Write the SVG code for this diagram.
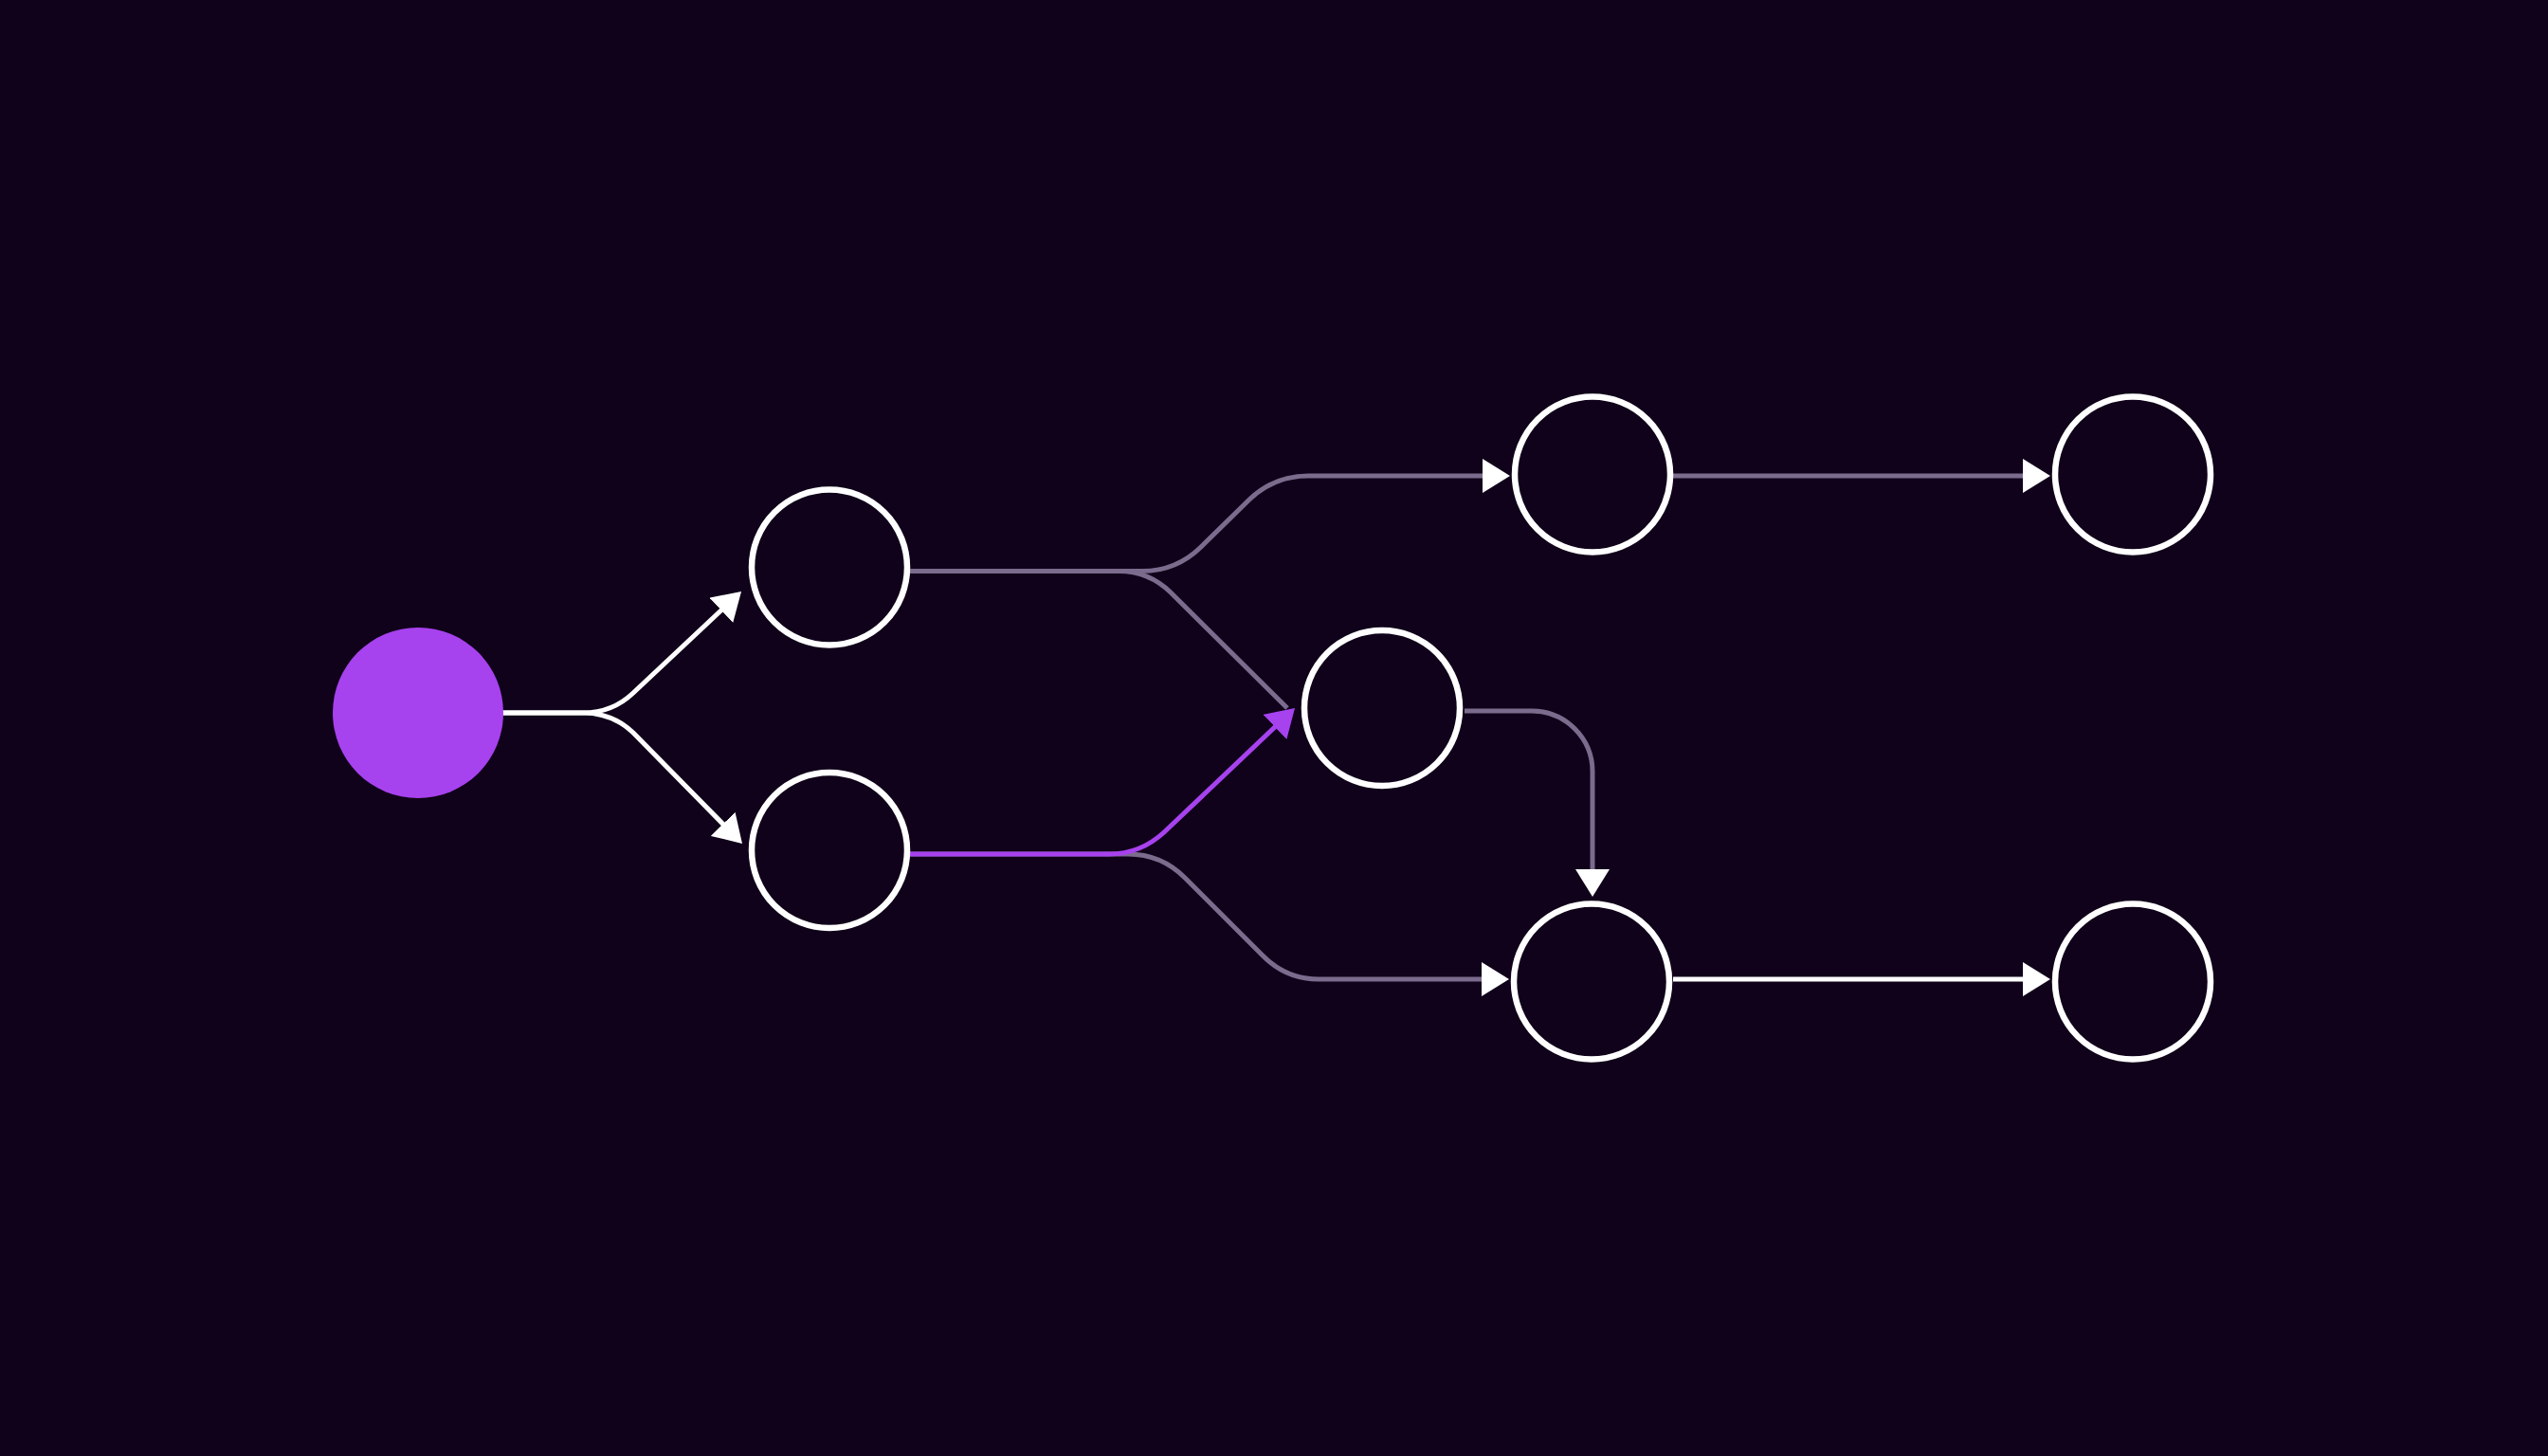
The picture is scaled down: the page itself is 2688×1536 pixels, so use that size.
<svg xmlns="http://www.w3.org/2000/svg" width="2688" height="1536" viewBox="0 0 2688 1536">
  <defs>
    <style>
      .node { fill: none; stroke: #ffffff; stroke-width: 6.5; }
      .start { fill: #a742ef; stroke: none; }
      .edge { fill: none; stroke-width: 5; stroke-linecap: butt; stroke-linejoin: round; }
      .white { stroke: #ffffff; }
      .gray { stroke: #7b6b8d; }
      .purple { stroke: #a742ef; }
    </style>
    <marker id="arrowW" markerUnits="userSpaceOnUse" markerWidth="29" markerHeight="36" refX="17" refY="18" orient="auto" viewBox="0 0 29 36">
      <path d="M0,0 L29,18 L0,36 z" fill="#ffffff"/>
    </marker>
    <marker id="arrowP" markerUnits="userSpaceOnUse" markerWidth="29" markerHeight="36" refX="17" refY="18" orient="auto" viewBox="0 0 29 36">
      <path d="M0,0 L29,18 L0,36 z" fill="#a742ef"/>
    </marker>
  </defs>
  <rect width="2688" height="1536" fill="#10021a"/>

  <g id="connectors">
    <path class="edge white" d="M530,752 H615 Q646,752 668,731 L773.3,632.2" marker-end="url(#arrowW)"/>
    <path class="edge white" d="M530,752 H615 Q646,752 668,773 L774.6,881.4" marker-end="url(#arrowW)"/>
    <path class="edge gray" d="M960,602.5 H1205 Q1241,602.5 1267,577 L1318,527 Q1344,502 1380,502 H1581" marker-end="url(#arrowW)"/>
    <path class="edge gray" d="M960,602.5 H1180 Q1212,602.5 1235,625 L1358,747"/>
    <path class="edge gray" d="M960,901 H1190 Q1225,901 1250,926 L1331,1007 Q1356,1033 1391,1033 H1580" marker-end="url(#arrowW)"/>
    <path class="edge purple" d="M960,901 H1170 Q1203,901 1228,878 L1357.3,755.2" marker-end="url(#arrowP)"/>
    <path class="edge gray" d="M1545,750 H1616 A64,64 0 0 1 1680,814 V934" marker-end="url(#arrowW)"/>
    <path class="edge gray" d="M1765,502 H2151" marker-end="url(#arrowW)"/>
    <path class="edge white" d="M1765,1033 H2151" marker-end="url(#arrowW)"/>
  </g>

  <g id="node-start"><circle class="start" cx="441" cy="752" r="90"/></g>
  <g id="node-a"><circle class="node" cx="875" cy="598.5" r="82"/></g>
  <g id="node-b"><circle class="node" cx="875" cy="897" r="82"/></g>
  <g id="node-c"><circle class="node" cx="1458" cy="747" r="82"/></g>
  <g id="node-d"><circle class="node" cx="1680" cy="500.5" r="82"/></g>
  <g id="node-e"><circle class="node" cx="2250" cy="500.5" r="82"/></g>
  <g id="node-f"><circle class="node" cx="1679" cy="1035.5" r="82"/></g>
  <g id="node-g"><circle class="node" cx="2250" cy="1035.5" r="82"/></g>
</svg>
